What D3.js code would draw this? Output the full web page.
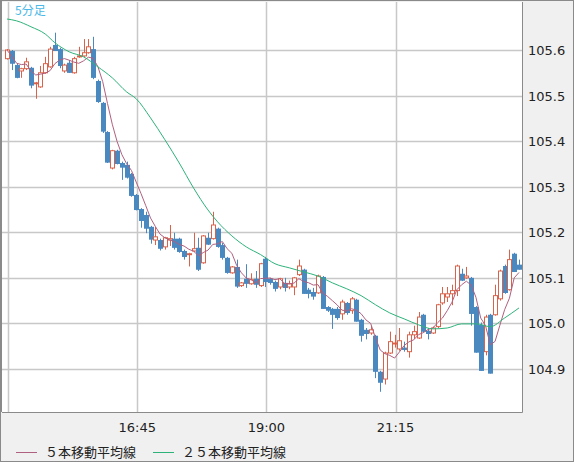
<!DOCTYPE html>
<html><head><meta charset="utf-8">
<script src="https://cdn.jsdelivr.net/npm/d3@7"></script>
<style>body{margin:0;background:#f0f0f0}svg{display:block}</style>
</head><body><svg id="chart" width="574" height="462"></svg>
<script>
// data ---------------------------------------------------------------
var opens = [105.581,105.598,105.567,105.554,105.559,105.561,105.526,105.519,105.550,105.563,
105.611,105.602,105.554,105.572,105.550,105.585,105.587,105.594,105.602,105.532,
105.484,105.420,105.341,105.379,105.352,105.348,105.328,105.282,105.251,105.238,
105.212,105.183,105.183,105.168,105.183,105.186,105.186,105.159,105.152,105.159,
105.166,105.133,105.188,105.186,105.208,105.172,105.144,105.111,105.124,105.083,
105.098,105.087,105.098,105.083,105.142,105.098,105.091,105.080,105.089,105.080,
105.080,105.107,105.118,105.074,105.069,105.067,105.102,105.036,105.032,105.032,
105.021,105.045,105.028,105.052,105.008,104.986,104.979,104.973,104.894,104.878,
104.935,104.955,104.944,104.947,104.938,104.975,104.968,105.019,104.984,104.979,
104.993,105.045,105.058,105.065,105.072,105.109,105.100,105.100,105.036,104.997,
104.938,105.019,105.019,105.054,105.126,105.074,105.153,105.129];
var closes = [105.600,105.572,105.541,105.559,105.574,105.524,105.528,105.550,105.570,105.602,
105.600,105.567,105.567,105.552,105.581,105.587,105.594,105.607,105.541,105.488,
105.423,105.355,105.379,105.352,105.344,105.322,105.282,105.251,105.227,105.210,
105.186,105.190,105.166,105.188,105.186,105.168,105.159,105.148,105.153,105.164,
105.120,105.192,105.175,105.216,105.170,105.146,105.113,105.124,105.083,105.089,
105.089,105.096,105.087,105.131,105.093,105.091,105.078,105.098,105.080,105.087,
105.100,105.126,105.067,105.067,105.061,105.104,105.034,105.030,105.021,105.014,
105.047,105.025,105.054,105.006,104.975,104.979,104.986,104.896,104.872,104.935,
104.960,104.957,104.962,104.944,104.975,104.982,105.014,104.984,104.979,104.990,
105.041,105.065,105.065,105.072,105.126,105.096,105.104,105.023,104.938,104.898,
105.014,104.892,105.061,105.115,105.069,105.140,105.115,105.120];
var highs = [105.602,105.600,105.570,105.561,105.583,105.563,105.530,105.565,105.585,105.607,
105.638,105.605,105.570,105.578,105.585,105.607,105.624,105.624,105.629,105.535,
105.486,105.422,105.381,105.381,105.355,105.355,105.330,105.284,105.253,105.245,
105.214,105.212,105.186,105.190,105.216,105.199,105.188,105.162,105.155,105.199,
105.188,105.194,105.199,105.245,105.210,105.177,105.146,105.126,105.140,105.091,
105.130,105.110,105.115,105.133,105.146,105.100,105.094,105.100,105.100,105.094,
105.102,105.140,105.120,105.078,105.078,105.107,105.104,105.038,105.034,105.036,
105.052,105.047,105.058,105.054,105.010,104.990,104.995,104.975,104.896,104.938,
104.982,104.975,104.990,104.960,104.982,104.995,105.025,105.021,104.990,104.993,
105.043,105.080,105.080,105.085,105.129,105.120,105.124,105.102,105.038,105.002,
105.019,105.021,105.085,105.118,105.129,105.162,105.155,105.140];
var lows = [105.579,105.556,105.538,105.539,105.556,105.516,105.493,105.517,105.548,105.561,
105.598,105.560,105.550,105.550,105.548,105.583,105.585,105.592,105.536,105.484,
105.418,105.352,105.338,105.349,105.315,105.318,105.278,105.248,105.210,105.198,
105.175,105.172,105.160,105.162,105.170,105.162,105.155,105.140,105.125,105.157,
105.115,105.131,105.172,105.184,105.166,105.140,105.109,105.109,105.078,105.080,
105.078,105.085,105.078,105.080,105.080,105.085,105.070,105.075,105.070,105.075,
105.062,105.104,105.065,105.055,105.052,105.065,105.032,105.025,104.988,105.008,
105.008,105.019,105.021,105.004,104.960,104.965,104.975,104.880,104.850,104.866,
104.933,104.947,104.940,104.938,104.925,104.966,104.966,104.980,104.965,104.977,
104.990,105.041,105.047,105.040,105.060,105.093,105.098,104.995,104.936,104.896,
104.930,104.890,105.017,105.050,105.065,105.072,105.113,105.118];
var ma25Index = [0,2,5,8,10,13,16,19,22,25,27,30,33,36,39,42,44,47,50,53,56,59,62,65,68,71,74,77,80,83,86,89,92,95,98,101,104,107];
var ma25Values = [105.668,105.664,105.651,105.635,105.616,105.596,105.585,105.563,105.539,105.508,
105.493,105.451,105.403,105.352,105.297,105.249,105.223,105.192,105.168,105.151,105.131,105.122,
105.113,105.104,105.089,105.076,105.061,105.041,105.023,105.010,104.997,104.988,104.990,104.999,
104.999,104.993,105.012,105.034];
var priceTicks = [104.9,105.0,105.1,105.2,105.3,105.4,105.5,105.6];
var timeTicks = [{i:0,label:""},{i:27,label:"16:45"},{i:54,label:"19:00"},{i:81,label:"21:15"}];

// chart --------------------------------------------------------------
var svg = d3.select("#chart");
var font = "'DejaVu Sans', sans-serif";
var plotLeft = 2, plotRight = 522, plotTop = 2, plotBottom = 412;

svg.append("rect").attr("x",0.5).attr("y",0.5).attr("width",573).attr("height",461)
  .attr("fill","#f0f0f0").attr("stroke","#8a8a8a");
svg.append("rect").attr("x",plotLeft).attr("y",plotTop).attr("width",plotRight-plotLeft).attr("height",plotBottom-plotTop)
  .attr("fill","#fff");

var x = d3.scaleLinear().domain([0,107]).range([7,519]);
var y = d3.scaleLinear().domain([104.9,105.6]).range([369,50]);

var grid = svg.append("g").attr("stroke","#c8c8c8").attr("stroke-width",1.5);
priceTicks.forEach(function(p) {
  grid.append("line").attr("x1",plotLeft).attr("x2",plotRight)
    .attr("y1",Math.round(y(p))+0.5).attr("y2",Math.round(y(p))+0.5);
});
timeTicks.forEach(function(t) {
  grid.append("line").attr("y1",plotTop).attr("y2",plotBottom)
    .attr("x1",Math.round(x(t.i)+1)+0.5).attr("x2",Math.round(x(t.i)+1)+0.5);
});

// plot frame
svg.append("path").attr("d","M"+(plotRight+0.5)+","+plotTop+"V"+(plotBottom+0.5)+"H"+plotLeft)
  .attr("fill","none").attr("stroke","#8a8a8a");
svg.append("line").attr("x1",1.5).attr("x2",1.5).attr("y1",0).attr("y2",plotBottom).attr("stroke","#8a8a8a");

// candles
var up = "#d9634a", down = "#4a88c0";
var candles = svg.append("g");
d3.range(opens.length).forEach(function(i) {
  var o = opens[i], c = closes[i], col = c >= o ? up : down;
  var cx = Math.round(x(i)) + 0.5;
  candles.append("line").attr("x1",cx).attr("x2",cx)
    .attr("y1",y(highs[i])).attr("y2",y(lows[i])).attr("stroke",col);
  var y0 = y(Math.max(o,c)), y1 = y(Math.min(o,c));
  var h = Math.max(1, y1 - y0);
  if (c >= o) {
    candles.append("rect").attr("x",cx-2).attr("y",y0).attr("width",4).attr("height",h)
      .attr("fill","#fff").attr("stroke",col);
  } else {
    candles.append("rect").attr("x",cx-2.5).attr("y",y0).attr("width",5).attr("height",h+1)
      .attr("fill",col);
  }
});

// moving averages
var ma5 = closes.map(function(c, i) {
  return d3.mean(closes.slice(Math.max(0,i-4), i+1));
});
var line = d3.line().x(function(d){return x(d[0]);}).y(function(d){return y(d[1]);});
svg.append("path").datum(ma5.map(function(v,i){return [i,v];}))
  .attr("d",line).attr("fill","none").attr("stroke","#b0607f").attr("stroke-width",1);
svg.append("path").datum(ma25Index.map(function(v,i){return [v,ma25Values[i]];}))
  .attr("d",line.curve(d3.curveMonotoneX)).attr("fill","none").attr("stroke","#2db37a").attr("stroke-width",1);

// labels
svg.append("text").attr("x",15).attr("y",15).text("5分足")
  .attr("font-family","'Noto Sans CJK JP', sans-serif").attr("font-size",12).attr("fill","#4ab8e8");
priceTicks.forEach(function(p) {
  svg.append("text").attr("x",528).attr("y",y(p)+5).text(p.toFixed(1))
    .attr("font-family",font).attr("font-size",13).attr("fill","#222");
});
timeTicks.forEach(function(t) {
  svg.append("text").attr("x",x(t.i)+1).attr("y",432).attr("text-anchor","middle").text(t.label)
    .attr("font-family",font).attr("font-size",13).attr("fill","#222");
});

// legend
var legend = [{label:"５本移動平均線",color:"#b0607f",x:16},{label:"２５本移動平均線",color:"#2db37a",x:153}];
legend.forEach(function(l) {
  svg.append("line").attr("x1",l.x).attr("x2",l.x+21).attr("y1",452.5).attr("y2",452.5).attr("stroke",l.color);
  svg.append("text").attr("x",l.x+29).attr("y",457).text(l.label)
    .attr("font-family","'Noto Sans CJK JP', sans-serif").attr("font-size",13).attr("fill","#222");
});
</script></body></html>
